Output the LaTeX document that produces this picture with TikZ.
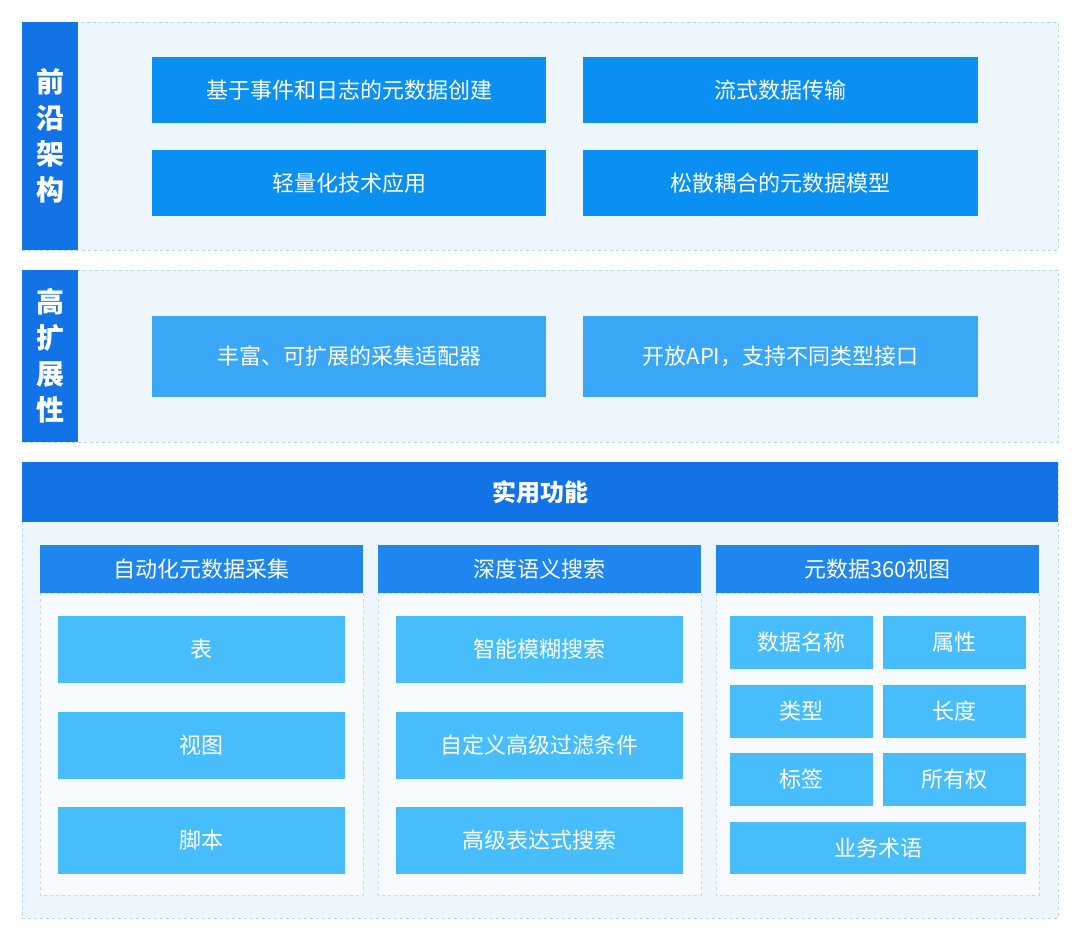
\documentclass[tikz,border=0pt]{standalone}
\usepackage{fontspec}
\setmainfont{Noto Sans CJK SC}
\begin{document}
\begin{tikzpicture}[x=1pt,y=-1pt,
  panel/.style={draw=cA!60,dashed,fill=cBG,line width=0.8pt},
  bar/.style={fill=cBar,draw=none},
  b1/.style={fill=cB1,draw=none,text=white,font=\fontsize{22}{26}\selectfont},
  b2/.style={fill=cB2,draw=none,text=white,font=\fontsize{22}{26}\selectfont},
  b3/.style={fill=cB3,draw=none,text=white,font=\fontsize{22}{26}\selectfont},
  hd/.style={fill=cHd,draw=none,text=white,font=\fontsize{22}{26}\selectfont},
  colbody/.style={draw=cA!50,dashed,fill=white!60!cBG,line width=0.7pt}]
\definecolor{cA}{HTML}{7DB8F0}
\definecolor{cBG}{HTML}{EEF6FD}
\definecolor{cBar}{HTML}{1273E6}
\definecolor{cB1}{HTML}{0A8FF2}
\definecolor{cB2}{HTML}{3AA6F6}
\definecolor{cB3}{HTML}{47BEFB}
\definecolor{cHd}{HTML}{1F86F0}
\useasboundingbox (0,0) rectangle (1080,940);
\newcommand{\bx}[5]{\path[#1] (#2) rectangle (#3) node[pos=.5]{#5};}
% panel 1
\draw[panel] (22,22) rectangle (1058,250);
\fill[cBar] (22,22) rectangle (78,250);
\node[text=white,font=\fontsize{28}{36}\selectfont\bfseries,align=center] (l1) at (50,136) {前\\沿\\架\\构};
\node[b1,minimum width=394,minimum height=66] (p1a) at (349,90) {基于事件和日志的元数据创建};
\node[b1,minimum width=395,minimum height=66] (p1b) at (780.5,90) {流式数据传输};
\node[b1,minimum width=394,minimum height=66] (p1c) at (349,183) {轻量化技术应用};
\node[b1,minimum width=395,minimum height=66] (p1d) at (780.5,183) {松散耦合的元数据模型};
% panel 2
\draw[panel] (22,270) rectangle (1058,442);
\fill[cBar] (22,270) rectangle (78,442);
\node[text=white,font=\fontsize{28}{36}\selectfont\bfseries,align=center] (l2) at (50,356) {高\\扩\\展\\性};
\node[b2,minimum width=394,minimum height=81] (p2a) at (349,356.5) {丰富、可扩展的采集适配器};
\node[b2,minimum width=395,minimum height=81] (p2b) at (780.5,356.5) {开放API，支持不同类型接口};
% panel 3
\draw[panel] (22,462) rectangle (1058,918);
\node[fill=cBar,minimum width=1036,minimum height=60,text=white,font=\fontsize{24}{28}\selectfont\bfseries] (h3) at (540,492) {实用功能};
% columns
\foreach \x/\t/\n in {40/自动化元数据采集/c1,378/深度语义搜索/c2,716/元数据360视图/c3}{
  \draw[colbody] (\x,593) rectangle (\x+323,895);
  \node[hd,minimum width=323,minimum height=48] (\n) at (\x+161.5,569) {\t};
}
\foreach \y/\t/\n in {649.5/表/a1,745.5/视图/a2,840.5/脚本/a3}{
  \node[b3,minimum width=287,minimum height=67] (\n) at (201.5,\y) {\t};}
\foreach \y/\t/\n in {649.5/智能模糊搜索/s1,745.5/自定义高级过滤条件/s2,840.5/高级表达式搜索/s3}{
  \node[b3,minimum width=287,minimum height=67] (\n) at (539.5,\y) {\t};}
\node[b3,minimum width=143,minimum height=53] (v1) at (801.5,642.5) {数据名称};
\node[b3,minimum width=143,minimum height=53] (v2) at (954.5,642.5) {属性};
\node[b3,minimum width=143,minimum height=53] (v3) at (801.5,711.5) {类型};
\node[b3,minimum width=143,minimum height=53] (v4) at (954.5,711.5) {长度};
\node[b3,minimum width=143,minimum height=53] (v5) at (801.5,779.5) {标签};
\node[b3,minimum width=143,minimum height=53] (v6) at (954.5,779.5) {所有权};
\node[b3,minimum width=296,minimum height=52] (v7) at (878,848) {业务术语};
\end{tikzpicture}
\end{document}
